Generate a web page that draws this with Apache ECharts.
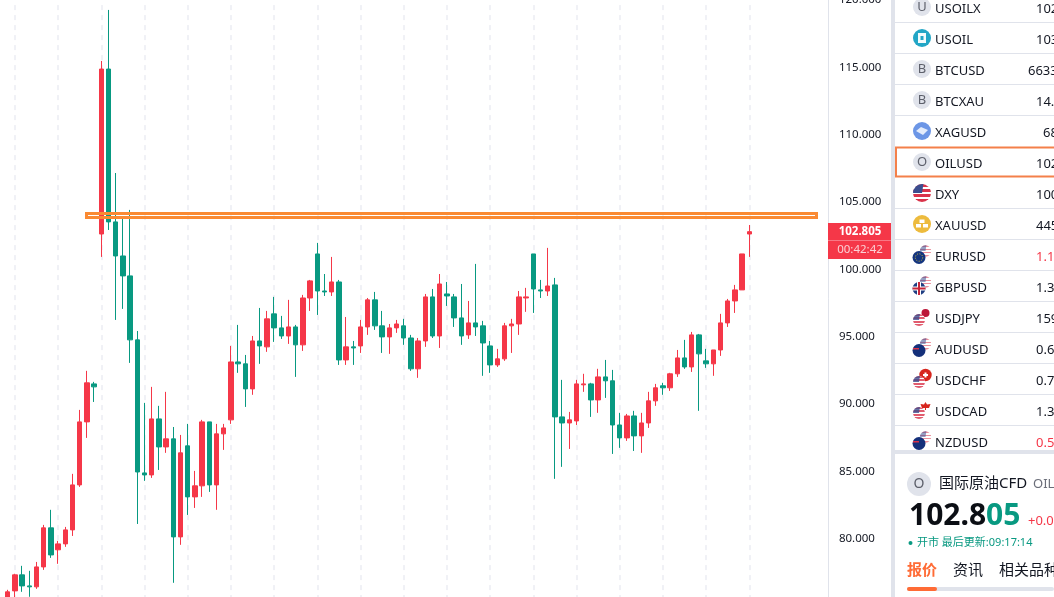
<!DOCTYPE html>
<html><head><meta charset="utf-8">
<style>html,body{margin:0;padding:0;background:#fff;overflow:hidden}#c{width:1054px;height:597px}</style>
<script src="https://cdn.jsdelivr.net/npm/echarts@6/dist/echarts.min.js"></script>
</head><body><div id="c"></div>
<script>
// [open, close, low, high]
const candles = [
[75.24,76.06,75.16,76.21],[76.13,77.32,75.46,77.40],[77.32,76.50,76.06,77.99],[76.50,76.43,75.69,77.62],
[76.43,77.91,76.28,78.28],[77.91,80.81,77.69,81.03],[80.81,78.80,78.58,82.15],[79.18,79.62,78.14,79.84],
[79.62,80.66,79.40,80.88],[80.66,84.00,80.21,84.82],[84.00,88.68,83.85,89.57],[88.68,91.58,87.49,92.47],
[91.50,91.28,90.16,91.65],[102.63,114.88,100.93,115.48],[114.88,103.53,102.93,119.27],[103.53,101.00,96.25,107.16],
[101.00,99.52,97.07,103.90],[99.52,94.77,93.06,104.42],[94.77,84.96,81.10,95.43],[84.89,84.74,84.30,90.09],
[84.74,88.90,84.52,91.28],[88.90,86.82,85.11,89.87],[86.82,87.42,86.38,90.91],[87.42,80.14,76.73,88.30],
[80.14,86.38,79.55,87.71],[86.90,83.11,81.77,88.53],[83.11,83.93,82.29,85.04],[83.93,88.68,83.11,88.83],
[88.68,84.00,83.48,88.68],[84.00,87.79,82.15,88.53],[87.79,88.23,86.60,88.53],[88.83,93.13,88.53,94.32],
[93.13,92.99,92.32,95.88],[92.99,91.13,89.79,93.65],[91.13,94.69,90.69,95.06],[94.69,94.32,92.99,97.14],
[94.25,96.33,93.88,96.92],[96.70,95.66,94.62,97.96],[95.66,95.06,94.84,96.55],[95.06,95.73,94.47,97.74],
[95.73,94.40,92.02,95.88],[94.40,97.88,93.95,98.11],[97.88,99.15,96.92,99.22],[101.15,98.40,96.62,101.97],
[98.40,98.33,98.03,99.66],[98.33,99.07,98.03,100.93],[99.07,93.28,92.91,99.22],[93.28,94.25,92.91,96.47],
[94.25,94.17,92.91,94.69],[94.32,95.73,93.80,96.25],[95.73,97.74,95.14,97.88],[97.74,95.81,95.51,98.33],
[95.81,94.99,93.80,96.92],[94.99,95.66,93.73,95.95],[95.66,95.95,95.29,96.25],[95.81,94.91,94.40,96.33],
[94.91,92.62,92.47,95.14],[92.62,94.69,91.95,94.91],[94.69,97.96,94.25,98.18],[97.96,95.06,94.91,98.55],
[95.06,98.92,94.17,99.66],[98.18,98.03,97.29,99.07],[97.96,96.40,95.73,98.18],[96.40,95.06,94.40,98.92],
[95.14,96.03,94.84,97.66],[96.03,95.73,95.06,100.41],[95.81,94.54,92.10,96.18],[94.32,92.91,92.32,94.69],
[92.91,93.36,92.76,94.10],[93.36,95.81,93.21,96.03],[95.81,95.95,93.80,96.33],[95.95,97.96,95.14,98.40],
[97.88,97.96,96.85,98.63],[101.15,98.55,96.77,101.15],[98.48,98.40,97.88,99.22],[98.40,98.77,98.03,101.60],
[98.85,89.05,84.45,99.37],[89.05,88.60,85.34,91.80],[88.60,88.83,86.67,89.42],[88.75,91.50,88.45,91.80],
[91.43,91.50,90.91,92.25],[91.50,90.31,89.05,91.58],[90.31,92.02,89.35,92.62],[92.02,91.73,90.46,93.28],
[91.73,88.45,86.30,92.54],[88.45,87.49,86.75,89.35],[87.49,89.12,87.27,89.27],[89.12,87.64,86.52,89.50],
[87.64,88.60,86.38,89.35],[88.60,90.24,88.23,90.91],[90.24,91.21,89.87,91.50],[91.36,91.21,90.69,91.58],
[91.21,92.25,90.98,92.32],[92.25,93.43,92.02,94.02],[93.43,92.76,92.62,94.77],[92.76,95.14,92.39,95.36],
[95.14,93.73,89.50,95.21],[93.21,92.99,92.69,94.10],[92.99,94.02,92.10,94.02],[94.02,96.03,93.58,96.70],
[96.03,97.66,95.73,97.81],[97.66,98.48,96.77,98.85],[98.48,101.15,98.48,101.15],[102.63,102.805,100.93,103.30]
];
const categories = candles.map((_, i) => String(i));
const zoneBand = [104.2, 103.9];
const lastPrice = '102.805';
const countdown = '00:42:42';
const symbols = ['USOILX','USOIL','BTCUSD','BTCXAU','XAGUSD','OILUSD','DXY','XAUUSD','EURUSD','GBPUSD','USDJPY','AUDUSD','USDCHF','USDCAD','NZDUSD'];
const quotes  = ['102','103','6633','14.','68','102','100','445','1.1','1.3','159','0.6','0.7','1.3','0.5'];
const quoteRed = ['EURUSD','NZDUSD'];

const RED='#F53748', GREEN='#089981', ORANGE='#FA8A32', BAND='#E0E3EB', INK='#131722';
const FONT='"Noto Sans","Noto Sans CJK SC",sans-serif';

function txt(x,y,text,size,fill,extra){return {type:'text',silent:true,z:20,style:Object.assign({x,y,text,fontSize:size,fontFamily:FONT,fill,verticalAlign:'middle'},extra||{})};}
function rect(x,y,w,h,fill,extra){return {type:'rect',silent:true,z:10,shape:{x,y,width:w,height:h},style:Object.assign({fill},extra||{})};}
function circ(cx,cy,r,fill,z){return {type:'circle',silent:true,z:z||15,shape:{cx,cy,r},style:{fill}};}
function zs(list,z){list.forEach(e=>e.z=z);return list;}
function usFlag(cx,cy,r,op,z){
  z=z||15;
  const s=[];const n=7;const cs=['#D9334A','#ffffff'];
  for(let i=0;i<n;i++){const c=cs[i%2];s.push({offset:i/n,color:c},{offset:(i+1)/n,color:c});}
  const a=[circ(cx,cy,r,'#fff',z),circ(cx,cy,r,{type:'linear',x:0,y:0,x2:0,y2:1,colorStops:s},z)];
  a.push({type:'sector',silent:true,z:z+1,shape:{cx,cy,r,r0:0,startAngle:Math.PI*1.0,endAngle:Math.PI*1.55},style:{fill:'#3C4E8F'}});
  if(op!==undefined){a.slice(1).forEach(e=>e.style.opacity=op);}
  return a;
}
function letter(cx,cy,l,r,size){return [circ(cx,cy,r,'#E0E3EB'),txt(cx,cy,l,size||13,'#5D606B',{align:'center'})];}
function back(cx,cy){return usFlag(cx+3.5,cy-4,5.7,.55,15);}
function front(cx,cy){return usFlag(cx-3,cy+3,6,.8,18);}
function icons(name,cx,cy){
  switch(name){
    case 'USOILX': return letter(cx,cy,'U',9);
    case 'USOIL': return [circ(cx,cy,9,'#22A6C6')].concat(zs([rect(cx-4,cy-5,8,10,'#fff',{opacity:.95}),rect(cx-1.5,cy-2,3,4,'#22A6C6')],16));
    case 'BTCUSD': case 'BTCXAU': return letter(cx,cy,'B',9);
    case 'OILUSD': return letter(cx,cy,'O',9);
    case 'XAGUSD': return [circ(cx,cy,9,'#6C96E6'),{type:'polygon',silent:true,z:16,shape:{points:[[cx-6,cy],[cx-1,cy-4],[cx+6,cy-1],[cx+1,cy+4]]},style:{fill:'#E4ECFB'}}];
    case 'DXY': return usFlag(cx,cy,9);
    case 'XAUUSD': return [circ(cx,cy,9,'#EDBB3D')].concat(zs([rect(cx-2.5,cy-4.5,5,3.5,'#fff'),rect(cx-6,cy,5,3.5,'#fff'),rect(cx+1,cy,5,3.5,'#fff')],16));
    case 'EURUSD': return back(cx,cy).concat([circ(cx-3,cy+2.5,6.5,'#14357F',18),{type:'circle',silent:true,z:19,shape:{cx:cx-3,cy:cy+2.5,r:3.7},style:{fill:'none',stroke:'#D8C23A',lineWidth:1,lineDash:[1,1.5]}}]);
    case 'GBPUSD': return back(cx,cy).concat([circ(cx-3,cy+2.5,6.5,'#1F3E82',18)],zs([rect(cx-9.5,cy+0.5,13,4,'#fff'),rect(cx-5,cy-4,4,13,'#fff')],19),zs([rect(cx-9.5,cy+1.5,13,2,'#C8273A'),rect(cx-4,cy-4,2,13,'#C8273A')],20));
    case 'USDJPY': return [circ(cx+3.5,cy-4,5.5,'#fff',15),circ(cx+3.5,cy-4,4,'#BC1638',16)].concat(front(cx,cy));
    case 'AUDUSD': case 'NZDUSD': return back(cx,cy).concat([circ(cx-3,cy+2.5,6.5,'#14307A',18)],zs([rect(cx-9,cy,6,1.5,'#D9334A')],19));
    case 'USDCHF': return [circ(cx+3.5,cy-4,6.2,'#D7261E',15)].concat(zs([rect(cx+1,cy-5,5,2,'#fff'),rect(cx+2.5,cy-6.5,2,5,'#fff')],16),front(cx,cy));
    case 'USDCAD': return [{type:'polygon',silent:true,z:16,shape:{points:[[cx+3.5,cy-8],[cx+5,cy-5.5],[cx+8.5,cy-6],[cx+7,cy-2],[cx+4,cy-2],[cx+4,cy],[cx+3,cy],[cx+3,cy-2],[cx,cy-2],[cx-1.5,cy-6],[cx+2,cy-5.5]]},style:{fill:'#D7261E'}}].concat(front(cx,cy));
  }
  return [];
}

const g=[];
// Right panel
g.push(rect(891,0,163,597,'#fff',{}));
g.push(rect(891,0,4,597,BAND));
g.push(rect(895,450,159,4,BAND));
[22,53,84,115,208,239,270,301,332,363,394,425].forEach(y=>g.push(rect(895,y,159,1,BAND)));
g.push({type:'rect',silent:true,z:11,shape:{x:896,y:147.5,width:160,height:29},style:{fill:'#fff',stroke:'#F4804A',lineWidth:2}});
symbols.forEach((s,i)=>{
  const yc=9+31*i;
  g.push(txt(935,yc,s,13,INK));
  g.push(txt(quotes[i].length===4?1028:(quotes[i].length===2?1043:1036),yc,quotes[i],13,quoteRed.includes(s)?RED:INK));
  icons(s,922,yc-2).forEach(e=>g.push(e));
});
// lower panel masks the list where it is cut off
g.push(Object.assign(rect(895,450,159,4,BAND),{z:30}));
g.push(Object.assign(rect(895,454,159,143,'#fff'),{z:30}));
letter(919,484,'O',12,14).forEach(e=>{e.z=31;g.push(e);});
zs([
 txt(939,484,'国际原油CFD',15,INK),
 txt(1033,484,'OIL',13,'#6A6D78'),
 txt(909,516,'102.8',30,'#0B0E14',{fontWeight:'bold'}),
 txt(986,516,'05',30,GREEN,{fontWeight:'bold'}),
 txt(1028,521,'+0.0',13,RED),
 circ(910.5,543,2,GREEN),
 txt(917,543,'开市 最后更新:09:17:14',11,GREEN),
 txt(907,571,'报价',15,'#FF6B35',{fontWeight:'bold'}),
 txt(953,571,'资讯',15,INK),
 txt(999,571,'相关品种',15,INK),
 {type:'rect',silent:true,shape:{x:907,y:587,width:147,height:4,r:2},style:{fill:BAND}}
],31).forEach(e=>g.push(e));
g.push({type:'rect',silent:true,z:32,shape:{x:907,y:587,width:30,height:4,r:2},style:{fill:'#FF6B35'}});
// Price tag
g.push(rect(828,223,63,36,RED));
g.push(rect(828,240,63,1,'#F87885'));
g.push(Object.assign(txt(860,232,lastPrice,11.5,'#fff',{align:'center',fontWeight:'bold'}),{z:21}));
g.push(Object.assign(txt(860,250,countdown,11.5,'#FBD0D5',{align:'center'}),{z:21}));

const chart=echarts.init(document.getElementById('c'),null,{renderer:'canvas'});
chart.setOption({
  animation:false,
  backgroundColor:'#fff',
  grid:{left:7.7,width:741.6,top:0.1,height:606,outerBoundsMode:'none',containLabel:false},
  xAxis:{type:'category',data:categories,boundaryGap:false,
    axisLine:{show:false},axisTick:{show:false},axisLabel:{show:false},
    splitLine:{show:true,interval:(i)=>i%6===1,lineStyle:{color:'#F0F1F6',width:2,type:[5,5],dashOffset:5}}},
  yAxis:{type:'value',position:'right',min:75,max:120,interval:5,offset:78.6,
    axisLine:{show:true,lineStyle:{color:'#E0E3EB',width:1}},axisTick:{show:false},splitLine:{show:false},
    axisLabel:{margin:11,padding:[2,0,0,0],formatter:v=>v.toFixed(3),color:'#131722',fontSize:11.5,fontFamily:FONT,showMinLabel:true,showMaxLabel:true}},
  series:[
    {type:'candlestick',data:candles,barWidth:5,clip:false,
     itemStyle:{color:RED,color0:GREEN,borderColor:RED,borderColor0:GREEN,borderWidth:1}},
    {type:'custom',data:[[0,zoneBand[0],zoneBand[1]]],encode:{x:0,y:[1,2]},clip:false,z:5,silent:true,
     renderItem:(p,api)=>{
       const y0=api.coord([0,api.value(1)])[1],y1=api.coord([0,api.value(2)])[1];
       return {type:'rect',shape:{x:86.5,y:Math.round(y0)+.5,width:730,height:Math.round(y1-y0)},style:{fill:'rgba(255,255,255,0)',stroke:ORANGE,lineWidth:3}};
     }}
  ],
  graphic:{elements:g}
});
</script></body></html>
